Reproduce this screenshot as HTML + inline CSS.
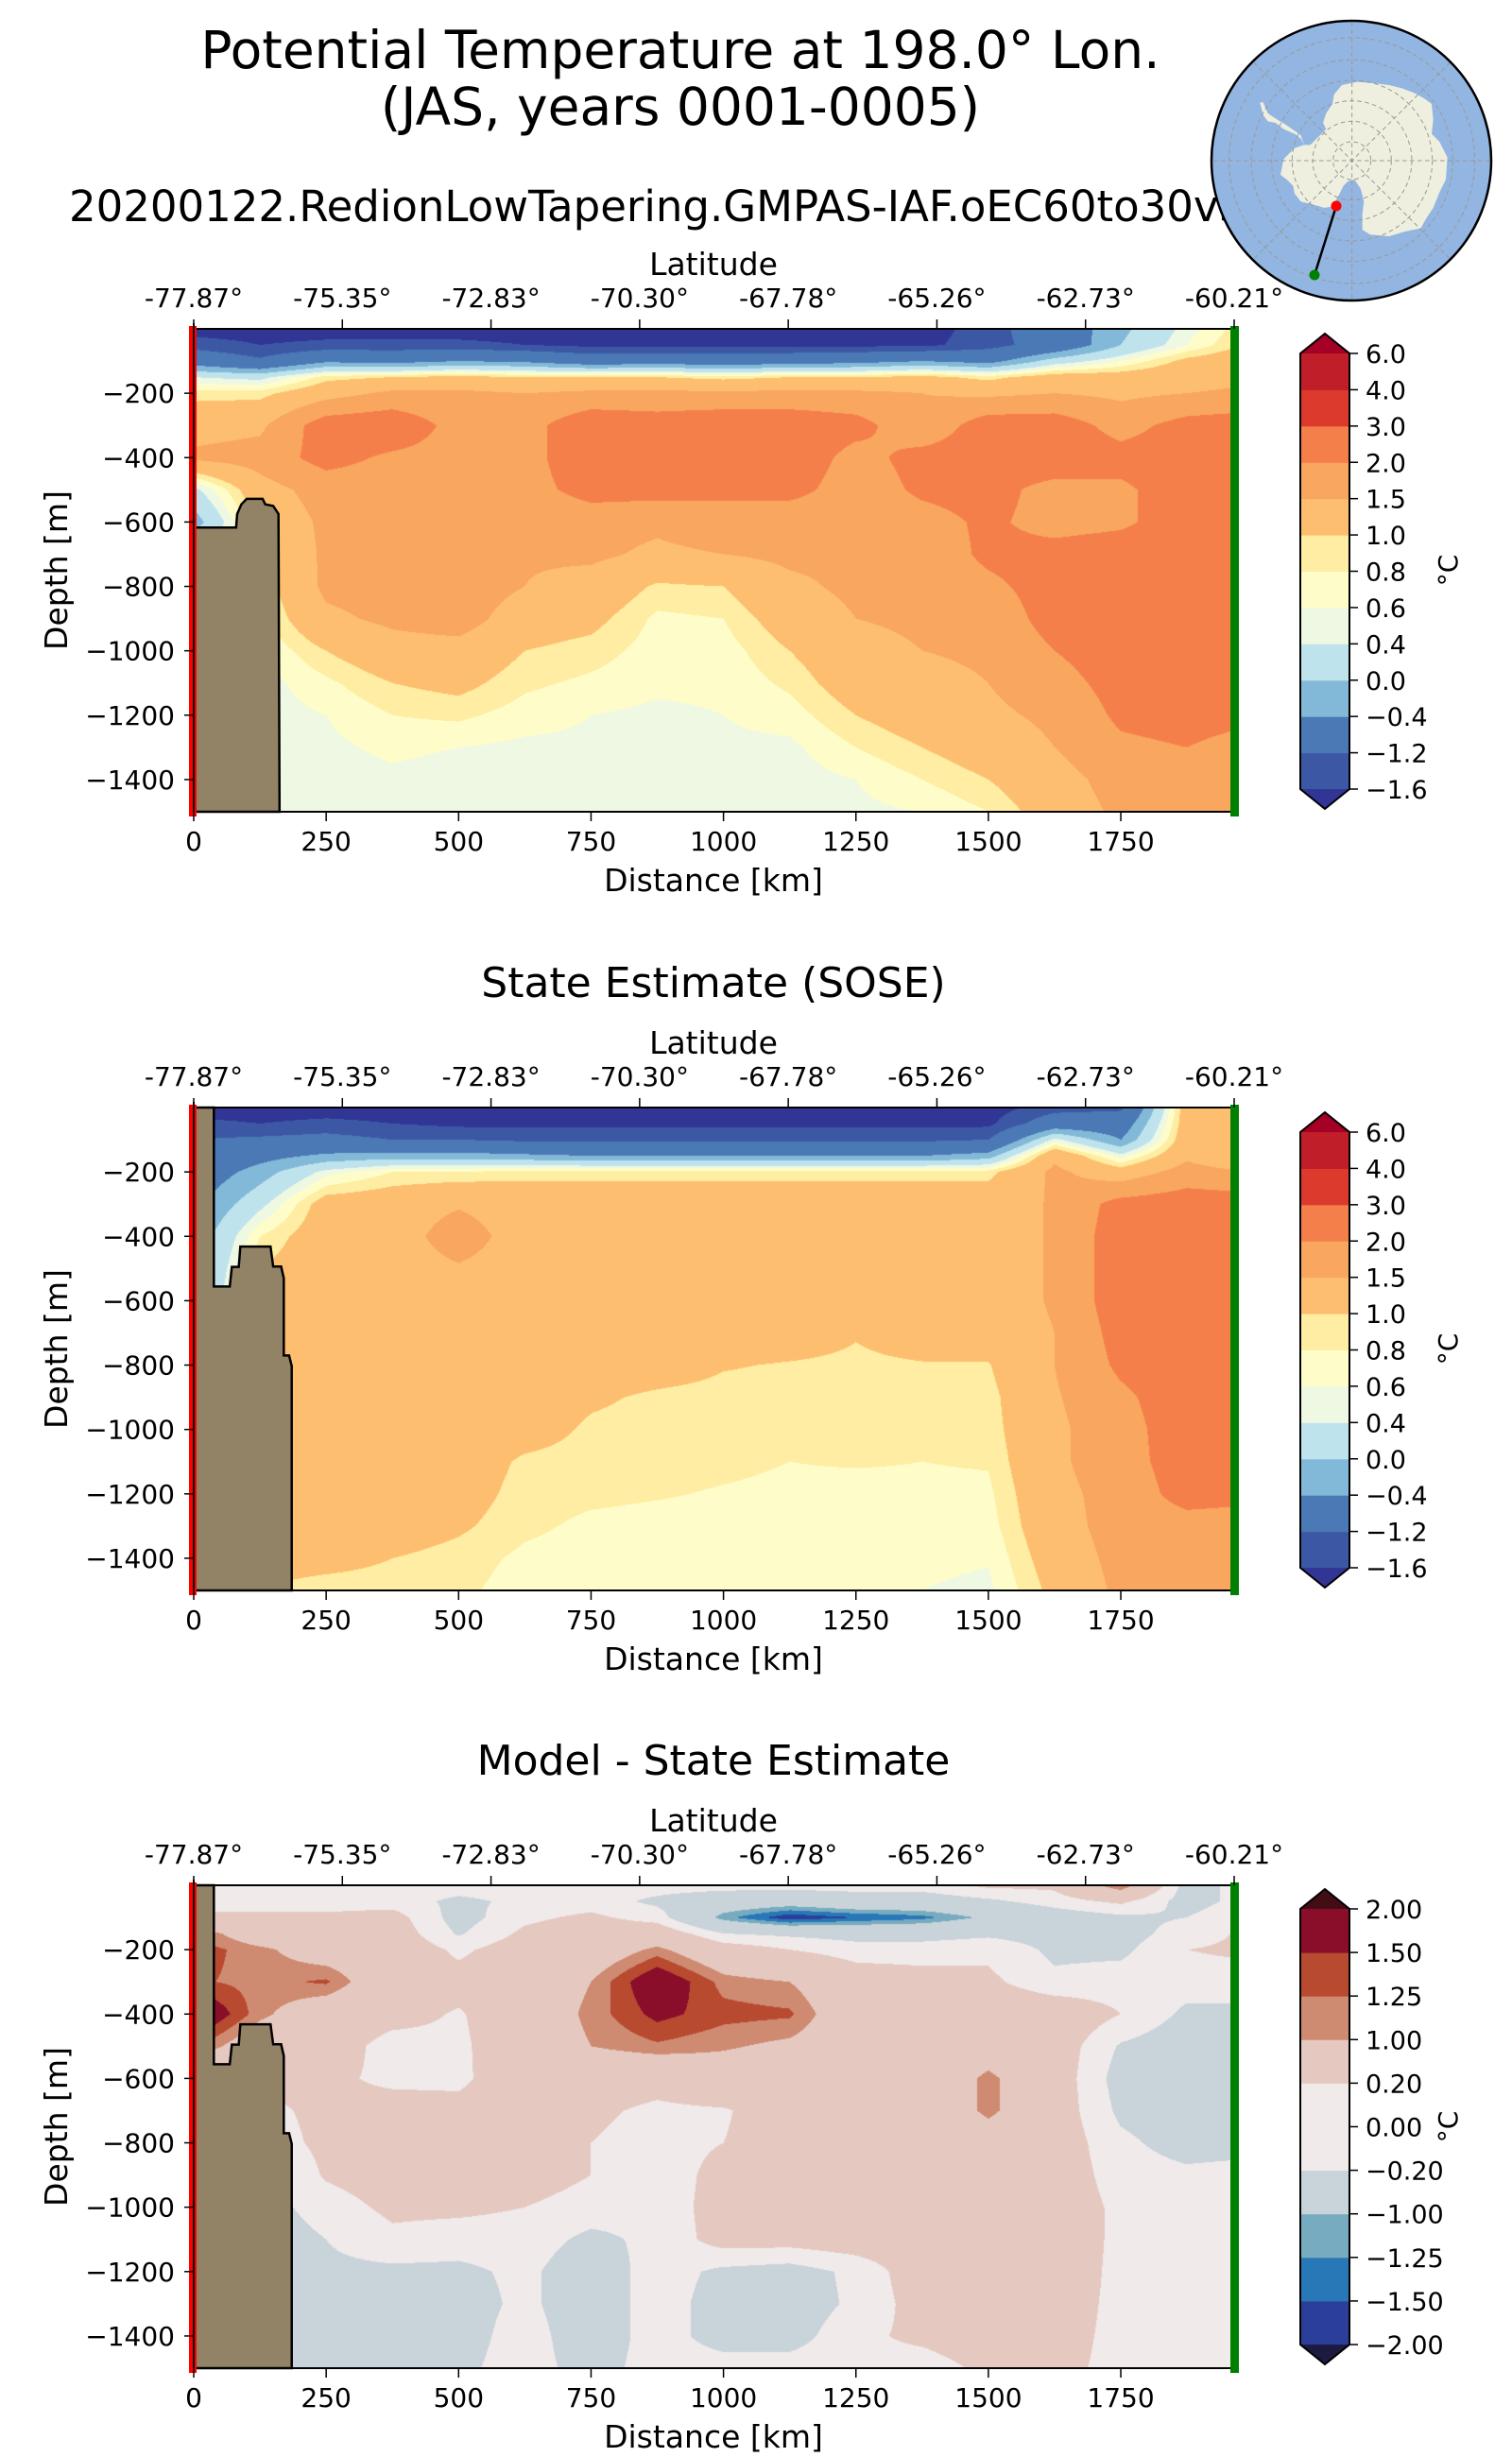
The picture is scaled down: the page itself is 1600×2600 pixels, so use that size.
<!DOCTYPE html>
<html><head><meta charset="utf-8">
<style>
html,body{margin:0;padding:0;background:#fff;}
#wrap{position:relative;width:1600px;height:2600px;overflow:hidden;font-family:"DejaVu Sans","Liberation Sans",sans-serif;}
canvas{position:absolute;}
svg{position:absolute;left:0;top:0;}
text{font-family:"DejaVu Sans","Liberation Sans",sans-serif;fill:#000;}
</style></head>
<body>
<div id="wrap">
<canvas id="c0" width="1101" height="511" style="left:205px;top:348px"></canvas>
<canvas id="c1" width="1101" height="511" style="left:205px;top:1172px"></canvas>
<canvas id="c2" width="1101" height="511" style="left:205px;top:1995px"></canvas>
<svg id="ov" width="1600" height="2600"></svg>
</div>
<script>
// ---- grid ----
const distanceKm = [0,125,250,375,500,625,750,875,1000,1125,1250,1375,1500,1625,1750,1875,2000];
const depthM = [0,50,100,150,200,300,400,500,600,700,800,900,1000,1100,1200,1300,1400,1500];
const latTickLabels = ["-77.87°","-75.35°","-72.83°","-70.30°","-67.78°","-65.26°","-62.73°","-60.21°"];
const distTicks = [0,250,500,750,1000,1250,1500,1750];
const depthTicks = [-200,-400,-600,-800,-1000,-1200,-1400];
// model potential temperature, one array per distance column (values at depthM)
const modelTemp = [
[-1.8,-1.4,-0.7,0.4,0.9,1.3,1.6,0.3,-0.2,0.5,0.5,0.5,0.5,0.5,0.5,0.5,0.5,0.5],
[-1.8,-1.6,-1.1,0.3,0.9,1.4,1.7,1.3,1.1,0.9,0.8,0.7,0.6,0.5,0.5,0.5,0.5,0.5],
[-1.8,-1.5,-0.5,0.9,1.3,2.3,2.2,1.7,1.6,1.6,1.6,1.4,1.0,0.75,0.6,0.55,0.5,0.5],
[-1.8,-1.5,-0.6,1.0,1.6,2.4,1.9,1.7,1.7,1.7,1.7,1.6,1.3,1.0,0.8,0.65,0.55,0.5],
[-1.8,-1.5,-0.4,1.1,1.6,1.8,1.8,1.8,1.8,1.8,1.8,1.75,1.3,1.1,0.85,0.6,0.5,0.5],
[-1.8,-1.6,-0.5,1.0,1.5,1.8,1.8,1.8,1.6,1.55,1.5,1.2,1.0,0.85,0.7,0.55,0.5,0.5],
[-1.8,-1.7,-0.8,1.0,1.6,2.4,2.4,2.2,1.7,1.6,1.3,1.1,0.9,0.75,0.6,0.55,0.5,0.5],
[-1.8,-1.7,-0.7,1.0,1.6,2.3,2.3,2.2,1.6,1.4,0.95,0.75,0.7,0.65,0.55,0.45,0.45,0.45],
[-1.8,-1.7,-0.8,0.9,1.6,2.4,2.4,2.1,1.8,1.5,1.0,0.8,0.7,0.65,0.6,0.55,0.5,0.5],
[-1.8,-1.7,-0.7,1.0,1.6,2.4,2.4,2.2,1.6,1.6,1.4,1.2,1.0,0.85,0.7,0.55,0.5,0.5],
[-1.8,-1.7,-0.6,1.0,1.6,2.2,1.8,1.7,1.7,1.6,1.6,1.5,1.3,1.2,1.0,0.8,0.6,0.55],
[-1.8,-1.7,-0.4,1.1,1.5,1.6,2.2,2.1,1.8,1.7,1.7,1.6,1.5,1.3,1.2,1.0,0.8,0.6],
[-1.4,-1.4,-0.6,0.9,1.4,2.3,2.3,2.2,2.1,2.1,1.9,1.7,1.6,1.5,1.4,1.2,1.0,0.8],
[-0.8,-0.9,0.2,1.2,1.5,2.3,2.4,1.8,1.8,2.2,2.2,2.2,2.0,1.8,1.6,1.5,1.3,1.2],
[-0.1,0.0,0.6,1.2,1.4,1.8,2.2,1.9,1.9,2.3,2.3,2.3,2.3,2.2,2.1,1.9,1.7,1.6],
[0.5,0.6,1.1,1.3,1.5,2.2,2.3,2.3,2.3,2.3,2.3,2.3,2.3,2.3,2.2,2.0,1.8,1.7],
[1.0,1.1,1.3,1.4,1.6,2.3,2.3,2.3,2.3,2.3,2.3,2.3,2.3,2.2,2.1,1.8,1.7,1.6]
];
const soseTemp = [
[-1.8,-1.5,-1.2,-1.0,-0.8,-0.5,-0.3,-0.2,-0.2,-0.2,-0.2,-0.2,-0.2,-0.2,-0.2,-0.2,-0.2,-0.2],
[-1.8,-1.6,-1.1,-0.6,-0.2,0.3,0.8,1.0,1.2,1.25,1.25,1.25,1.25,1.25,1.25,1.2,1.1,1.0],
[-1.8,-1.5,-1.0,-0.3,0.5,1.2,1.25,1.25,1.25,1.25,1.25,1.25,1.25,1.25,1.25,1.2,1.1,0.9],
[-1.8,-1.6,-1.2,-0.2,0.8,1.25,1.25,1.25,1.25,1.25,1.25,1.25,1.25,1.25,1.25,1.2,1.0,0.9],
[-1.8,-1.7,-1.2,-0.2,0.8,1.45,1.75,1.45,1.25,1.25,1.25,1.25,1.25,1.2,1.15,1.05,0.9,0.85],
[-1.8,-1.7,-1.3,-0.3,0.9,1.25,1.25,1.25,1.25,1.25,1.25,1.25,1.15,0.95,0.9,0.85,0.75,0.7],
[-1.8,-1.7,-1.3,-0.4,0.9,1.25,1.25,1.25,1.25,1.25,1.2,1.05,0.95,0.9,0.85,0.75,0.7,0.7],
[-1.8,-1.7,-1.3,-0.4,0.9,1.25,1.25,1.25,1.25,1.25,1.15,0.95,0.9,0.88,0.82,0.72,0.68,0.68],
[-1.8,-1.7,-1.3,-0.4,0.9,1.25,1.25,1.25,1.25,1.2,1.02,0.92,0.9,0.85,0.78,0.7,0.65,0.65],
[-1.8,-1.7,-1.3,-0.4,0.9,1.25,1.25,1.25,1.25,1.15,0.98,0.9,0.88,0.8,0.75,0.7,0.65,0.6],
[-1.8,-1.7,-1.3,-0.4,0.9,1.25,1.25,1.25,1.25,1.02,0.95,0.9,0.88,0.82,0.72,0.68,0.65,0.6],
[-1.8,-1.7,-1.3,-0.4,0.9,1.25,1.25,1.25,1.25,1.15,0.98,0.9,0.88,0.8,0.75,0.7,0.65,0.6],
[-1.8,-1.7,-1.2,-0.2,0.9,1.25,1.25,1.25,1.25,1.2,0.98,0.9,0.88,0.82,0.75,0.7,0.62,0.55],
[-1.4,-0.8,0.5,1.4,1.6,1.55,1.55,1.55,1.55,1.5,1.5,1.45,1.4,1.4,1.35,1.3,1.2,1.1],
[-1.3,-0.8,-0.4,0.5,1.2,2.2,2.3,2.3,2.3,2.2,2.1,1.9,1.8,1.8,1.7,1.7,1.65,1.6],
[1.25,1.25,1.3,1.4,1.7,2.3,2.3,2.3,2.3,2.3,2.3,2.3,2.3,2.25,2.2,1.8,1.7,1.65],
[0.9,0.9,0.9,0.95,1.5,2.3,2.3,2.3,2.3,2.3,2.3,2.3,2.3,2.2,2.1,1.8,1.7,1.65]
];
const diffTemp = [
[0,0.2,0.2,1.3,1.4,1.3,2.0,1.3,0.3,0,0,0,0,0,0,0,0,0],
[0,0,0.3,0.6,1.1,1.15,1.1,0.6,0.3,0.1,0,-0.3,-0.4,-0.5,-0.5,-0.5,-0.5,-0.5],
[0,0,0.3,0.5,0.7,1.3,0.6,0.5,0.3,0.3,0.3,0.25,0,-0.2,-0.3,-0.4,-0.4,-0.4],
[0,0,0.4,0.5,0.6,0.5,0.4,0.0,0.1,0.4,0.45,0.45,0.3,0.1,-0.3,-0.4,-0.4,-0.4],
[0,-0.3,-0.4,-0.25,0.1,0.4,0.15,0.1,0.1,0.35,0.45,0.5,0.3,0,-0.3,-0.4,-0.4,-0.3],
[0,-0.1,0.1,0.3,0.5,0.6,0.6,0.6,0.55,0.5,0.5,0.45,0.2,0,-0.1,-0.1,0,0],
[0,0,0.3,0.5,0.6,1.0,1.1,1.0,0.5,0.3,0.2,0.2,0,-0.3,-0.5,-0.5,-0.5,-0.4],
[0,-0.3,0,0.6,1.1,1.85,1.6,1.2,0.4,0.1,0,-0.1,-0.1,-0.1,0,0,0,0],
[0,-0.6,-1.15,-0.2,0.5,1.15,1.35,1.05,0.7,0.15,0.2,0.4,0.45,0.4,-0.3,-0.4,-0.4,0],
[0,-0.7,-1.7,-0.3,0.2,1.0,1.3,0.9,0.6,0.5,0.45,0.5,0.5,0.4,-0.4,-0.5,-0.4,0],
[0,-0.5,-1.5,-0.4,0,0.5,0.55,0.6,0.6,0.6,0.6,0.6,0.55,0.5,-0.1,-0.1,0.1,0.1],
[0,-0.5,-1.35,-0.4,0,0.4,0.5,0.5,0.5,0.5,0.5,0.5,0.5,0.5,0.5,0.4,0.3,0],
[0.3,-0.3,-0.9,-0.3,0.1,0.3,0.6,0.7,1.1,1.1,0.7,0.6,0.6,0.6,0.6,0.55,0.5,0.3],
[0.3,0,-0.5,-0.4,-0.3,-0.1,0.6,0.5,0.5,0.5,0.5,0.5,0.5,0.5,0.45,0.4,0.35,0.3],
[1.3,0.3,-0.3,-0.4,-0.3,0,0.2,-0.25,-0.4,-0.3,-0.1,0,0.1,0.1,0.1,0.1,0.1,0.1],
[-0.4,-0.4,-0.2,0,0.2,0,-0.3,-0.5,-0.5,-0.5,-0.4,-0.1,0,0,0,0,0,0],
[0,0,0.2,0.3,0.3,0,-0.3,-0.5,-0.5,-0.5,-0.4,0,0,0,0,0,0,0]
];
const tempLevels = [-1.6,-1.2,-0.4,0,0.4,0.6,0.8,1.0,1.5,2.0,3.0,4.0,6.0];
const tempTickLabels = ["−1.6","−1.2","−0.4","0.0","0.4","0.6","0.8","1.0","1.5","2.0","3.0","4.0","6.0"];
const tempColors = ["#313695","#3c58a5","#4a79b6","#83b9d8","#bfe3ed","#eef8e3","#fefdc9","#feeda2","#fdbe70","#f9a65e","#f57f4b","#dc3a2c","#c01e28","#a50026"];
const diffLevels = [-2,-1.5,-1.25,-1,-0.2,0,0.2,1,1.25,1.5,2];
const diffTickLabels = ["−2.00","−1.50","−1.25","−1.00","−0.20","0.00","0.20","1.00","1.25","1.50","2.00"];
const diffColors = ["#1c1a41","#2b3f9a","#2878b8","#77abbf","#c9d3da","#f0eaea","#f0eaea","#e5c9c1","#cf8b72","#b84a30","#8a0e2a","#430d16"];
const landModel = [[0,617],[80,617],[82,575],[90,545],[100,528],[130,528],[135,545],[150,550],[160,575],[162,1500],[0,1500]];
const landSose = [[0,0],[38,0],[38,556],[68,556],[72,495],[85,495],[88,432],[145,432],[150,494],[165,494],[170,530],[170,770],[180,770],[185,803],[185,1500],[0,1500]];

// ---- axes ----
const AX_L = 205, AX_W = 1101, AX_H = 511, KM_MAX = 1964, DEP_MAX = 1500;
const panelTops = [348,1172,1995];
function xOf(km){ return AX_L + km / KM_MAX * AX_W; }
function yOf(top, d){ return top + d / DEP_MAX * AX_H; }

function idx(arr, v){ let i=0; while(i<arr.length-2 && v>arr[i+1]) i++; return i; }
function sample(field, km, d){
  const i = idx(distanceKm, km), j = idx(depthM, d);
  const tx = Math.min(1,Math.max(0,(km-distanceKm[i])/(distanceKm[i+1]-distanceKm[i])));
  const ty = Math.min(1,Math.max(0,(d-depthM[j])/(depthM[j+1]-depthM[j])));
  const a=field[i][j], b=field[i+1][j], c=field[i][j+1], e=field[i+1][j+1];
  return (a*(1-tx)+b*tx)*(1-ty) + (c*(1-tx)+e*tx)*ty;
}
function hex(h){ return [parseInt(h.slice(1,3),16),parseInt(h.slice(3,5),16),parseInt(h.slice(5,7),16)]; }
function drawField(cid, field, levels, colors){
  const cv=document.getElementById(cid), ctx=cv.getContext('2d');
  const W=cv.width,H=cv.height, img=ctx.createImageData(W,H);
  const rgb=colors.map(hex);
  for(let py=0;py<H;py++){
    const d=(py+0.5)/AX_H*DEP_MAX;
    for(let px=0;px<W;px++){
      const km=(px+0.5)/AX_W*KM_MAX;
      const v=sample(field,km,d);
      let k=0; while(k<levels.length && v>=levels[k]) k++;
      const c=rgb[k], o=(py*W+px)*4;
      img.data[o]=c[0];img.data[o+1]=c[1];img.data[o+2]=c[2];img.data[o+3]=255;
    }
  }
  ctx.putImageData(img,0,0);
}
drawField('c0', modelTemp, tempLevels, tempColors);
drawField('c1', soseTemp, tempLevels, tempColors);
drawField('c2', diffTemp, diffLevels.filter((v,i)=>i!==5), diffColors.filter((c,i)=>i!==6));

// ---- SVG overlay ----
const NS='http://www.w3.org/2000/svg';
const svg=document.getElementById('ov');
function el(tag, attrs, parent){ const e=document.createElementNS(NS,tag); for(const k in attrs) e.setAttribute(k,attrs[k]); (parent||svg).appendChild(e); return e; }
function txt(x,y,s,size,anchor,parent){ const t=el('text',{x:x,y:y,'font-size':size,'text-anchor':anchor||'middle'},parent); t.textContent=s; return t; }

let t;
t=txt(720,72,'Potential Temperature at 198.0° Lon.',55);
 
t=txt(720,132,'(JAS, years 0001-0005)',55);
 
t=txt(73,234,'20200122.RedionLowTapering.GMPAS-IAF.oEC60to30v3',45,'start');
 

const panelTitles=[null,'State Estimate (SOSE)','Model - State Estimate'];
const fields=['model','sose','difference'];
panelTops.forEach((top,p)=>{
  const g=el('g',{});
  
  
  const off=top-348;
  if(panelTitles[p]){ t=txt(755,1055+off-824,panelTitles[p],44,'middle',g);
      }
  const land = p===0 ? landModel : landSose;
  const lp=el('polygon',{points:land.map(q=>xOf(q[0])+','+yOf(top,q[1])).join(' '),fill:'#938366',stroke:'#000','stroke-width':2.5},g);
   
  const fr=el('rect',{x:AX_L,y:top,width:AX_W,height:AX_H,fill:'none',stroke:'#000','stroke-width':2},g);
   
  const rl=el('rect',{x:200,y:top-3,width:8,height:AX_H+8,fill:'#ff0000'},g);
   
  el('line',{x1:AX_L,y1:top-6,x2:AX_L,y2:top+AX_H,stroke:'#000','stroke-width':2},g);
  const gl=el('rect',{x:1302,y:top-3,width:9,height:AX_H+8,fill:'#008000'},g);
   
  latTickLabels.forEach((s,i)=>{
    const x=AX_L+i*AX_W/(latTickLabels.length-1);
    el('line',{x1:x,y1:top,x2:x,y2:top-10,stroke:'#000','stroke-width':1.5},g);
    t=txt(x,top-23,s,28,'middle',g);
     
  });
  t=txt(755,top-57,'Latitude',33,'middle',g);
   
  distTicks.forEach(v=>{
    const x=xOf(v);
    el('line',{x1:x,y1:top+AX_H,x2:x,y2:top+AX_H+10,stroke:'#000','stroke-width':1.5},g);
    t=txt(x,top+AX_H+41,String(v),28,'middle',g);
     
  });
  t=txt(755,top+AX_H+84,'Distance [km]',33,'middle',g);
   
  depthTicks.forEach(v=>{
    const y=yOf(top,-v);
    el('line',{x1:AX_L,y1:y,x2:AX_L-10,y2:y,stroke:'#000','stroke-width':1.5},g);
    t=txt(185,y+10,'−'+Math.abs(v),28,'end',g);
     
  });
  t=txt(0,0,'Depth [m]',33,'middle',g);
  t.setAttribute('transform','translate(71,'+(top+AX_H/2)+') rotate(-90)');
   
  // colorbar
  const cb=el('g',{},g);
   
  const isDiff=p===2;
  const labels=isDiff?diffTickLabels:tempTickLabels;
  const cols=isDiff?diffColors:tempColors;
  const n=labels.length;
  const cTop=top+(isDiff?25:26), cBot=top+(isDiff?486:487);
  const step=(cBot-cTop)/(n-1);
  const X0=1376,X1=1428,XM=1402,tip=21;
  for(let i=0;i<n-1;i++){
    const yb=cBot-i*step;
    const r=el('rect',{x:X0,y:yb-step-0.5,width:X1-X0,height:step+1,fill:cols[i+1]},cb);
     
  }
  el('polygon',{points:`${X0},${cBot} ${X1},${cBot} ${XM},${cBot+tip}`,fill:cols[0]},cb);
  el('polygon',{points:`${X0},${cTop} ${X1},${cTop} ${XM},${cTop-tip}`,fill:cols[cols.length-1]},cb);
  el('polygon',{points:`${X0},${cTop} ${XM},${cTop-tip} ${X1},${cTop} ${X1},${cBot} ${XM},${cBot+tip} ${X0},${cBot}`,fill:'none',stroke:'#000','stroke-width':2},cb);
  labels.forEach((s,i)=>{
    const y=cBot-i*step;
    el('line',{x1:X1,y1:y,x2:X1+9,y2:y,stroke:'#000','stroke-width':1.5},cb);
    t=txt(1445,y+10,s,27,'start',cb);
     
  });
  t=txt(0,0,'°C',28,'middle',cb);
  t.setAttribute('transform','translate(1542,'+(top+AX_H/2)+') rotate(-90)');
   
});

// ---- inset map ----
const mg=el('g',{});
 
el('circle',{cx:1430,cy:170,r:148,fill:'#93b5e1'},mg);
const mapInner=el('g',{transform:'translate(1270,10) scale(0.3333)'},mg);
const landPts=[[190,295],[200,335],[215,355],[240,360],[265,380],[300,395],[320,410],[330,430],[300,440],[280,460],[265,475],[260,500],[255,525],[275,540],[295,560],[300,585],[320,610],[360,620],[395,630],[420,625],[440,590],[455,560],[470,545],[490,540],[510,570],[520,610],[515,650],[515,700],[540,715],[600,720],[650,705],[700,695],[720,660],[740,630],[760,580],[780,540],[785,470],[760,420],[735,395],[740,350],[735,300],[715,285],[680,265],[640,250],[600,240],[560,235],[500,230],[450,240],[425,270],[420,300],[400,330],[390,360],[400,380],[380,400],[360,420],[350,430],[330,430],[320,400],[300,385],[270,365],[245,350],[215,330],[200,295]];
const ant=el('polygon',{points:landPts.map(q=>q.join(',')).join(' '),fill:'#efefdf'},mapInner);
 
[60,125,190,255,320,390].forEach(r=>el('circle',{cx:482,cy:480,r:r,fill:'none',stroke:'#999','stroke-width':3,'stroke-dasharray':'14,10'},mapInner));
for(let a=0;a<180;a+=45){const rad=a*Math.PI/180;el('line',{x1:482-440*Math.cos(rad),y1:480-440*Math.sin(rad),x2:482+440*Math.cos(rad),y2:480+440*Math.sin(rad),stroke:'#999','stroke-width':3,'stroke-dasharray':'14,10'},mapInner);}
el('line',{x1:1414,y1:218,x2:1391,y2:291,stroke:'#000','stroke-width':2.5},mg);
const rd=el('circle',{cx:1414,cy:218,r:5.5,fill:'#ff0000'},mg);
 
const gd=el('circle',{cx:1391,cy:291,r:5.5,fill:'#008000'},mg);
 
el('circle',{cx:1430,cy:170,r:148,fill:'none',stroke:'#000','stroke-width':2.5},mg);
</script>
</body></html>
